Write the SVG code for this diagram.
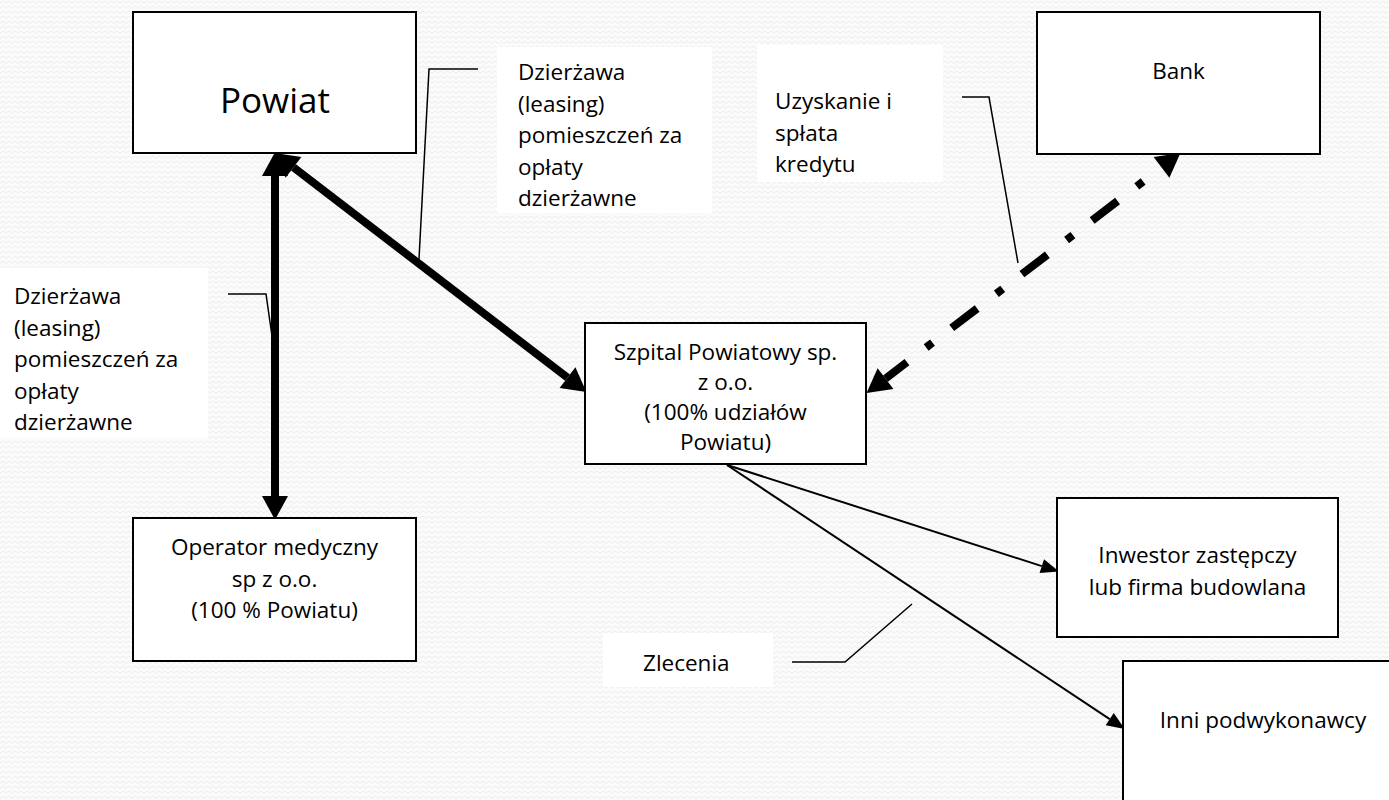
<svg xmlns="http://www.w3.org/2000/svg" width="1389" height="800" viewBox="0 0 1389 800">
<style>
.box{fill:#fff;stroke:#000;stroke-width:2}
.lbl{fill:#fff;stroke:none}
.t{font-family:"Open Sans","Liberation Sans",sans-serif;font-size:22.5px;fill:#000}
.c{text-anchor:middle}
.lead{fill:none;stroke:#000;stroke-width:1.5}
.thick{fill:none;stroke:#000;stroke-width:8}
.thin{fill:none;stroke:#000;stroke-width:2}
</style>
<defs>
<pattern id="bg" width="6" height="5" patternUnits="userSpaceOnUse">
<rect width="6" height="5" fill="#fbfbfb"/>
<path d="M0,3.2 C1,3.2 2,1.2 3,1.2 C4,1.2 5,3.2 6,3.2" fill="none" stroke="#e6e6e6" stroke-width="0.8"/>
</pattern>
<marker id="big" markerUnits="userSpaceOnUse" markerWidth="26" markerHeight="26" viewBox="0 -12 22 24" refX="0" refY="0" orient="auto-start-reverse" overflow="visible">
<path d="M0,-12 L22,0 L0,12 z" fill="#000"/>
</marker>
<marker id="small" markerUnits="userSpaceOnUse" markerWidth="18" markerHeight="16" viewBox="0 -6.5 16 13" refX="0" refY="0" orient="auto" overflow="visible">
<path d="M0,-6.5 L16,0 L0,6.5 z" fill="#000"/>
</marker>
</defs>
<rect width="1389" height="800" fill="url(#bg)"/>

<g id="label-dzierzawa-top">
<rect class="lbl" x="497" y="47" width="215" height="166"/>
<text class="t" x="518" y="80">Dzierżawa</text>
<text class="t" x="518" y="111.5">(leasing)</text>
<text class="t" x="518" y="143">pomieszczeń za</text>
<text class="t" x="518" y="174.5">opłaty</text>
<text class="t" x="518" y="206">dzierżawne</text>
</g>
<g id="label-dzierzawa-left">
<rect class="lbl" x="0" y="268" width="208" height="170"/>
<text class="t" x="14" y="304">Dzierżawa</text>
<text class="t" x="14" y="335.5">(leasing)</text>
<text class="t" x="14" y="367">pomieszczeń za</text>
<text class="t" x="14" y="398.5">opłaty</text>
<text class="t" x="14" y="430">dzierżawne</text>
</g>
<g id="label-kredyt">
<rect class="lbl" x="757" y="45" width="186" height="137"/>
<text class="t" x="775" y="109">Uzyskanie i</text>
<text class="t" x="775" y="140.5">spłata</text>
<text class="t" x="775" y="172">kredytu</text>
</g>
<g id="label-zlecenia">
<rect class="lbl" x="603" y="633" width="170" height="54"/>
<text class="t" x="643" y="671">Zlecenia</text>
</g>

<g id="connectors">
<polyline class="lead" points="478,69 429,69 419,259"/>
<polyline class="lead" points="228,294 266,294 272,336"/>
<polyline class="lead" points="962,97 989,97 1018,263"/>
<polyline class="lead" points="792,662 845,662 912,604"/>
<line class="thick" x1="275" y1="176" x2="275" y2="496" marker-start="url(#big)" marker-end="url(#big)"/>
<line class="thick" x1="293.5" y1="167.4" x2="567.5" y2="377.6" marker-start="url(#big)" marker-end="url(#big)"/>
<line class="thick" x1="885.5" y1="378.6" x2="1161.5" y2="167.4" stroke-dasharray="32 24.2 8 24.2" stroke-dashoffset="5" marker-start="url(#big)" marker-end="url(#big)"/>
<line class="thin" x1="727" y1="465" x2="1041.8" y2="566.1" marker-end="url(#small)"/>
<line class="thin" x1="727" y1="465" x2="1109.7" y2="719.1" marker-end="url(#small)"/>
</g>

<g id="powiat">
<rect class="box" x="133" y="12" width="283" height="141"/>
<text class="t c" x="275" y="113" style="font-size:35px">Powiat</text>
</g>
<g id="bank">
<rect class="box" x="1037" y="12" width="283" height="142"/>
<text class="t c" x="1178.5" y="79">Bank</text>
</g>
<g id="szpital">
<rect class="box" x="585" y="323" width="281" height="141"/>
<text class="t c" x="725.5" y="360">Szpital Powiatowy sp.</text>
<text class="t c" x="725.5" y="390">z o.o.</text>
<text class="t c" x="725.5" y="420">(100% udziałów</text>
<text class="t c" x="725.5" y="450">Powiatu)</text>
</g>
<g id="operator">
<rect class="box" x="133" y="518" width="283" height="143"/>
<text class="t c" x="274.5" y="555">Operator medyczny</text>
<text class="t c" x="274.5" y="586.5">sp z o.o.</text>
<text class="t c" x="274.5" y="618">(100 % Powiatu)</text>
</g>
<g id="inwestor">
<rect class="box" x="1057" y="498" width="281" height="139"/>
<text class="t c" x="1197.5" y="563">Inwestor zastępczy</text>
<text class="t c" x="1197.5" y="595">lub firma budowlana</text>
</g>
<g id="inni">
<rect class="box" x="1123" y="661" width="283" height="142"/>
<text class="t c" x="1263" y="728">Inni podwykonawcy</text>
</g>
</svg>
